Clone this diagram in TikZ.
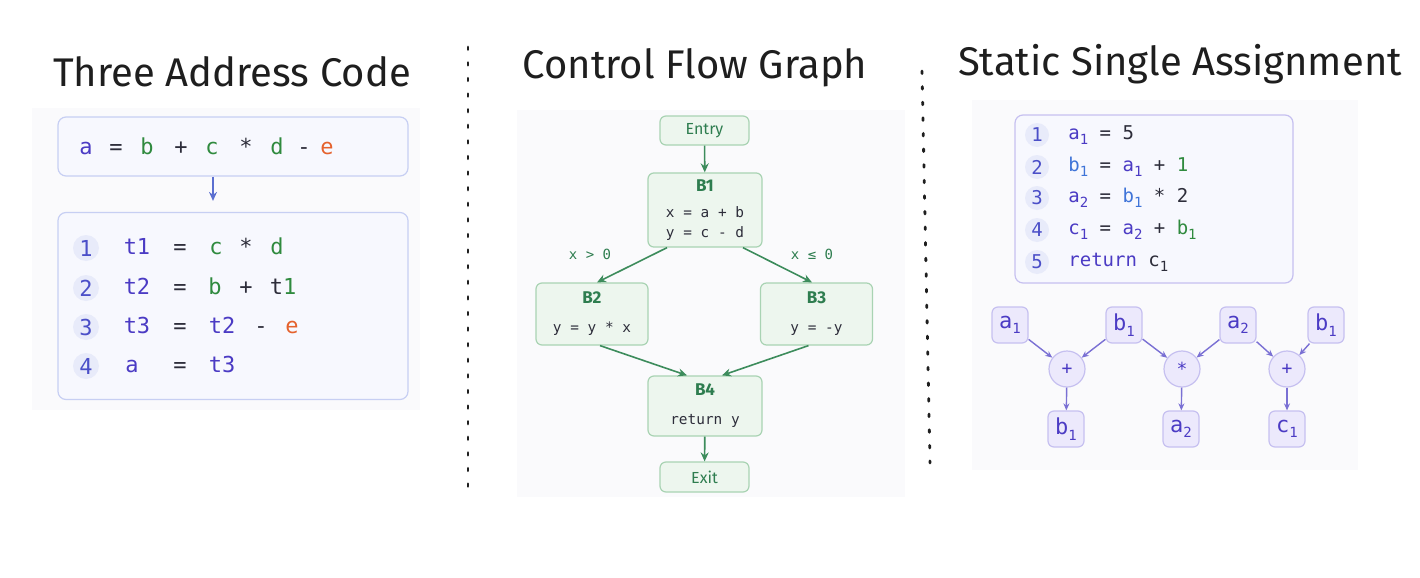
\documentclass[tikz,border=0pt]{standalone}
\usepackage{fontspec}
\setmainfont{Fira Sans}
\setsansfont{Fira Sans}
\setmonofont{DejaVu Sans Mono}
\usepackage{xcolor}
\usetikzlibrary{arrows.meta}
\definecolor{panelbg}{HTML}{FAFAFC}
\definecolor{ink}{HTML}{1E1E1E}
\definecolor{tacline}{HTML}{C7CFF3}
\definecolor{tacfill}{HTML}{F7F8FE}
\definecolor{numfill}{HTML}{E8EBFA}
\definecolor{numblue}{HTML}{4B4FC8}
\definecolor{varpurple}{HTML}{4B3BC4}
\definecolor{vargreen}{HTML}{2F8A3E}
\definecolor{varorange}{HTML}{E5622D}
\definecolor{varblue}{HTML}{3F74D8}
\definecolor{opdark}{HTML}{2D2D3A}
\definecolor{tacarrow}{HTML}{5B6FD0}
\definecolor{cfgfill}{HTML}{EDF6EE}
\definecolor{cfgline}{HTML}{A9D3B3}
\definecolor{cfgtext}{HTML}{2E7D4F}
\definecolor{cfgarrow}{HTML}{3D8C5C}
\definecolor{ssafill}{HTML}{ECE9FC}
\definecolor{ssaline}{HTML}{C6C0F0}
\definecolor{ssaarrow}{HTML}{7A70D4}
\newcommand{\lowidx}[1]{\raisebox{-0.45ex}{\fontsize{7pt}{8pt}\selectfont #1}}
\newcommand{\cv}[2]{\textcolor{#1}{#2}}

\begin{document}
\begin{tikzpicture}[x=0.5pt, y=-0.5pt, >={Stealth[length=4.5pt, width=4pt]},
    title/.style={font=\fontsize{20}{24}\selectfont, text=ink},
    divider/.style={ink, line width=1.4pt, line cap=round, dash pattern=on 1.3pt off 6.5pt},
    tacbox/.style={draw=tacline, fill=tacfill, rounded corners=4pt, line width=0.6pt, minimum width=175pt},
    tacnum/.style={circle, fill=numfill, text=numblue, inner sep=0pt, minimum size=13pt,
        font=\ttfamily\fontsize{11}{13}\selectfont},
    tactok/.style={anchor=base, inner sep=0pt, font=\ttfamily\fontsize{11}{13}\selectfont},
    cfgbox/.style={draw=cfgline, fill=cfgfill, rounded corners=3pt, line width=0.6pt, align=center,
        text=opdark, font=\ttfamily\fontsize{7.2}{10}\selectfont},
    cfghead/.style={font=\sffamily\fontsize{8}{9}\selectfont, text=cfgtext},
    cfgarr/.style={->, cfgarrow, line width=0.8pt},
    cfglabel/.style={text=cfgtext, font=\ttfamily\fontsize{7}{9}\selectfont},
    ssabox/.style={draw=ssaline, fill=tacfill, rounded corners=4pt, line width=0.6pt,
        minimum width=139pt, minimum height=84pt},
    ssanum/.style={circle, fill=numfill, text=numblue, inner sep=0pt, minimum size=12pt,
        font=\ttfamily\fontsize{9.5}{11}\selectfont},
    ssacode/.style={anchor=west, inner sep=0pt, text=opdark, font=\ttfamily\fontsize{9.5}{11}\selectfont},
    ssavar/.style={draw=ssaline, fill=ssafill, rounded corners=3pt, line width=0.6pt, inner sep=0pt,
        minimum size=18pt, text=varpurple, font=\ttfamily\fontsize{11}{12}\selectfont},
    ssaop/.style={circle, draw=ssaline, fill=ssafill, line width=0.6pt, inner sep=0pt,
        minimum size=18pt, text=varpurple, font=\ttfamily\fontsize{9}{11}\selectfont},
    ssaarr/.style={->, ssaarrow, line width=0.7pt, >={Stealth[length=3.5pt, width=3pt]}}]
    \useasboundingbox (0,0) rectangle (1420,578);
    \fill[white] (0,0) rectangle (1420,578);

    % panels
    \fill[panelbg] (32,108) rectangle (420,410);
    \fill[panelbg] (517,110) rectangle (905,497);
    \fill[panelbg] (972,100) rectangle (1358,470);

    % titles and dividers
    \node[title] (tactitle) at (232,72) {Three Address Code};
    \node[title] (cfgtitle) at (695,68) {Control Flow Graph};
    \node[title] (ssatitle) at (1180,64) {Static Single Assignment};
    \coordinate (d1top) at (468,47);
    \coordinate (d1bot) at (468,487);
    \coordinate (d2top) at (922,71);
    \coordinate (d2bot) at (930,463);
    \draw[divider] (d1top) -- (d1bot);
    \draw[divider] (d2top) -- (d2bot);

    % three address code
    \node[tacbox, minimum height=29.5pt] (expr) at (233,146.5) {};
    \node[tacbox, minimum height=93.5pt] (lines) at (233,306) {};
    \foreach \tok/\x/\col [count=\k] in {a/86/varpurple, =/116/opdark, b/147/vargreen, +/181/opdark,
        c/212/vargreen, */246/opdark, d/277/vargreen, -/304/opdark, e/327/varorange}
        \node[tactok, text=\col] (expr\k) at (\x,154) {\tok};
    \draw[->, tacarrow, line width=0.8pt, shorten >=5.5pt] ([xshift=-10pt]expr.south) -- ([xshift=-10pt]lines.north);
    \foreach \i/\y in {1/248, 2/288, 3/327, 4/366}
        \node[tacnum] (num\i) at (86,\y) {\i};
    \foreach \tok/\x/\col [count=\k] in {t1/137/varpurple, =/180/opdark, c/216/vargreen, */246/opdark,
        d/277/vargreen}
        \node[tactok, text=\col] (ln1\k) at (\x,254) {\tok};
    \foreach \tok/\x/\col [count=\k] in {t2/137/varpurple, =/180/opdark, b/215/vargreen, +/246/opdark,
        \cv{opdark}{t}\cv{vargreen}{1}/283/opdark}
        \node[tactok, text=\col] (ln2\k) at (\x,294) {\tok};
    \foreach \tok/\x/\col [count=\k] in {t3/137/varpurple, =/180/opdark, t2/222/varpurple, -/261/opdark,
        e/292/varorange}
        \node[tactok, text=\col] (ln3\k) at (\x,333) {\tok};
    \foreach \tok/\x/\col [count=\k] in {a/132/varpurple, =/180/opdark, t3/222/varpurple}
        \node[tactok, text=\col] (ln4\k) at (\x,372) {\tok};

    % control flow graph
    \node[cfgbox, minimum width=44.5pt, minimum height=14.5pt, text=cfgtext, font=\sffamily\fontsize{8}{9}\selectfont]
        (entry) at (704.5,130.5) {Entry};
    \node[cfgbox, minimum width=57pt, minimum height=37pt] (b1) at (705,210)
        {{\sffamily\bfseries\color{cfgtext}\fontsize{8.5}{10}\selectfont B1}\\[3pt] x = a + b\\ y = c - d};
    \node[cfgbox, minimum width=56pt, minimum height=31pt] (b2) at (592,314)
        {{\sffamily\bfseries\color{cfgtext}\fontsize{8.5}{10}\selectfont B2}\\[4.5pt] y = y * x};
    \node[cfgbox, minimum width=56pt, minimum height=31pt] (b3) at (816.5,314)
        {{\sffamily\bfseries\color{cfgtext}\fontsize{8.5}{10}\selectfont B3}\\[4.5pt] y = -y};
    \node[cfgbox, minimum width=57pt, minimum height=30pt] (b4) at (705,406)
        {{\sffamily\bfseries\color{cfgtext}\fontsize{8.5}{10}\selectfont B4}\\[4.5pt] return y};
    \node[cfgbox, minimum width=44.5pt, minimum height=15pt, text=cfgtext, font=\sffamily\fontsize{8}{9}\selectfont]
        (exit) at (704.5,477) {Exit};
    \draw[cfgarr] (entry) -- (b1);
    \draw[cfgarr] ([xshift=-19pt]b1.south) -- ([xshift=2.5pt]b2.north);
    \draw[cfgarr] ([xshift=19pt]b1.south) -- ([xshift=-2.25pt]b3.north);
    \draw[cfgarr] ([xshift=4pt]b2.south) -- ([xshift=-9pt]b4.north);
    \draw[cfgarr] ([xshift=-4pt]b3.south) -- ([xshift=8.5pt]b4.north);
    \draw[cfgarr] (b4) -- (exit);
    \node[cfglabel] (gt) at (590,254) {x > 0};
    \node[cfglabel] (le) at (812,254) {x ≤ 0};

    % static single assignment
    \node[ssabox] (ssacode) at (1154,199) {};
    \foreach \i/\y in {1/135, 2/167, 3/198, 4/230, 5/262}
        \node[ssanum] (snum\i) at (1037,\y) {\i};
    \node[ssacode] (sline1) at (1068,135) {\cv{varpurple}{a\lowidx{1}} = 5};
    \node[ssacode] (sline2) at (1068,167)
        {\cv{varblue}{b\lowidx{1}} = \cv{varpurple}{a\lowidx{1}} + \cv{vargreen}{1}};
    \node[ssacode] (sline3) at (1068,198)
        {\cv{varpurple}{a\lowidx{2}} = \cv{varblue}{b\lowidx{1}} * 2};
    \node[ssacode] (sline4) at (1068,230)
        {\cv{varpurple}{c\lowidx{1}} = \cv{varpurple}{a\lowidx{2}} + \cv{vargreen}{b\lowidx{1}}};
    \node[ssacode] (sline5) at (1068,262) {\cv{varpurple}{return} c\lowidx{1}};

    \node[ssavar] (a1) at (1010,325) {a\lowidx{1}};
    \node[ssavar] (b1in) at (1124,325) {b\lowidx{1}};
    \node[ssavar] (a2in) at (1238,325) {a\lowidx{2}};
    \node[ssavar] (b1r) at (1326,325) {b\lowidx{1}};
    \node[ssaop] (add1) at (1067,369) {+};
    \node[ssaop] (mul) at (1182,369) {*};
    \node[ssaop] (add2) at (1287,369) {+};
    \node[ssavar] (b1out) at (1066,429) {b\lowidx{1}};
    \node[ssavar] (a2out) at (1181,429) {a\lowidx{2}};
    \node[ssavar] (c1out) at (1287,429) {c\lowidx{1}};
    \foreach \src/\dst in {a1/add1, b1in/add1, b1in/mul, a2in/mul, a2in/add2, b1r/add2,
        add1/b1out, mul/a2out, add2/c1out}
        \draw[ssaarr] (\src) -- (\dst);
\end{tikzpicture}
\end{document}
